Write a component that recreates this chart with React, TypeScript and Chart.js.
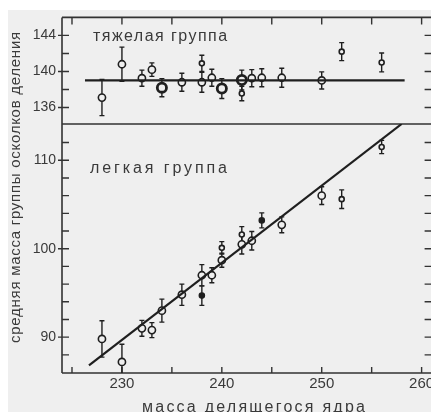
import { useEffect, useRef } from "react";
import { Chart, registerables } from "chart.js";

Chart.register(...registerables);

// Mass of the fissioning nucleus (x axis)
const xTickValues = [230, 240, 250, 260];
const heavyTickValues = [136, 140, 144];
const lightTickValues = [90, 100, 110];

// Heavy fragment group: mean mass and its uncertainty
const heavyMass = [228, 230, 232, 233, 234, 236, 238, 238, 239, 240, 242, 242, 243, 244, 246, 250, 252, 256];
const heavyMean = [137.1, 140.8, 139.25, 140.2, 138.2, 138.8, 138.8, 140.9, 139.3, 138.1, 139.05, 137.55, 139.25, 139.3, 139.3, 139.0, 142.2, 141.0];
const heavyErr = [2.0, 1.9, 0.9, 0.75, 1.0, 1.0, 1.1, 0.9, 0.95, 1.1, 1.1, 0.8, 0.95, 1.0, 1.05, 0.95, 1.0, 1.05];
// o = open circle, O = heavy open circle, s = small open mark, f = filled mark
const heavyKind = ["o", "o", "o", "o", "O", "o", "o", "s", "o", "O", "O", "s", "o", "o", "o", "o", "s", "s"];

// Light fragment group
const lightMass = [228, 230, 232, 233, 234, 236, 238, 238, 239, 240, 240, 242, 242, 243, 244, 246, 250, 252, 256];
const lightMean = [89.8, 87.2, 91.0, 90.8, 93.0, 94.8, 97.0, 94.7, 97.0, 98.7, 100.1, 100.5, 101.6, 100.9, 103.2, 102.7, 106.0, 105.6, 111.5];
const lightErr = [2.05, 2.0, 0.9, 0.85, 1.3, 1.2, 1.2, 1.1, 0.85, 0.8, 0.7, 1.1, 0.9, 1.05, 0.85, 0.9, 1.0, 1.05, 0.75];
const lightKind = ["o", "o", "o", "o", "o", "o", "o", "f", "o", "o", "s", "o", "s", "o", "f", "o", "o", "s", "s"];

// Fitted trends
const heavyFitMass = [226.3, 258.3];
const heavyFitMean = [139.0, 139.0];
const lightFitMass = [226.7, 258.0];
const lightFitMean = [86.8, 114.1];

const BG = "#efefef";
const INK = "#1f1f1f";
const TEXT = "#3a3a3a";
const FONT = "'Liberation Sans', Arial, sans-serif";

const toPoints = (xs: number[], ys: number[]) => xs.map((x, i) => ({ x, y: ys[i] }));

const radiusFor = (k: string) => (k === "O" ? 4.6 : k === "o" ? 3.6 : 2.5);
const widthFor = (k: string) => (k === "O" ? 2.8 : 1.6);

function markerDataset(label: string, xs: number[], ys: number[], errs: number[], kinds: string[], axis: string) {
  return {
    type: "scatter" as const,
    label,
    data: toPoints(xs, ys),
    errors: errs,
    yAxisID: axis,
    pointRadius: kinds.map(radiusFor),
    pointBorderWidth: kinds.map(widthFor),
    pointBorderColor: INK,
    pointBackgroundColor: kinds.map((k) => (k === "f" ? INK : BG)),
  };
}

function fitDataset(label: string, xs: number[], ys: number[], axis: string) {
  return {
    type: "scatter" as const,
    label,
    data: toPoints(xs, ys),
    yAxisID: axis,
    showLine: true,
    borderColor: INK,
    borderWidth: 2.2,
    pointRadius: 0,
  };
}

// Vertical uncertainty bars with caps, clipped to their own panel
const errorBars = {
  id: "errorBars",
  beforeDatasetsDraw(chart: any) {
    const ctx = chart.ctx as CanvasRenderingContext2D;
    const area = chart.chartArea;
    chart.data.datasets.forEach((ds: any, i: number) => {
      if (!ds.errors) return;
      const meta = chart.getDatasetMeta(i);
      const ys = chart.scales[meta.yAxisID];
      ctx.save();
      ctx.beginPath();
      ctx.rect(area.left, ys.top, area.right - area.left, ys.bottom - ys.top);
      ctx.clip();
      ctx.strokeStyle = INK;
      ctx.lineWidth = 1.4;
      meta.data.forEach((pt: any, j: number) => {
        const v = ds.data[j];
        const top = ys.getPixelForValue(v.y + ds.errors[j]);
        const bot = ys.getPixelForValue(v.y - ds.errors[j]);
        const x = pt.x;
        ctx.beginPath();
        ctx.moveTo(x, top);
        ctx.lineTo(x, bot);
        ctx.moveTo(x - 2.5, top);
        ctx.lineTo(x + 2.5, top);
        ctx.moveTo(x - 2.5, bot);
        ctx.lineTo(x + 2.5, bot);
        ctx.stroke();
      });
      ctx.restore();
    });
  },
};

// Frame, panel divider and inward tick marks on all sides
const frameTicks = {
  id: "frameTicks",
  beforeDatasetsDraw(chart: any) {
    const ctx = chart.ctx as CanvasRenderingContext2D;
    const { left, right } = chart.chartArea;
    const x = chart.scales.x;
    const yH = chart.scales.yH;
    const yL = chart.scales.yL;
    ctx.save();
    ctx.strokeStyle = "#333";
    ctx.lineWidth = 1.6;
    ctx.beginPath();
    ctx.moveTo(left, yH.top);
    ctx.lineTo(right + 1, yH.top);
    ctx.moveTo(left, yH.bottom);
    ctx.lineTo(right + 1, yH.bottom);
    ctx.moveTo(left, yL.bottom);
    ctx.lineTo(right + 1, yL.bottom);
    ctx.moveTo(left, yH.top);
    ctx.lineTo(left, yL.bottom);
    ctx.moveTo(right + 1, yH.top);
    ctx.lineTo(right + 1, yL.bottom);
    ctx.stroke();

    ctx.lineWidth = 1.4;
    ctx.beginPath();
    for (let v = 225; v <= 260; v += 5) {
      const px = x.getPixelForValue(v);
      ctx.moveTo(px, yL.bottom);
      ctx.lineTo(px, yL.bottom - 6);
      ctx.moveTo(px, yH.top);
      ctx.lineTo(px, yH.top + 7);
    }
    const yTicks = (scale: any, from: number, to: number, majors: number[]) => {
      for (let v = from; v <= to; v += 2) {
        const py = scale.getPixelForValue(v);
        const major = majors.includes(v);
        ctx.moveTo(left - (major ? 4 : 0), py);
        ctx.lineTo(left + 7, py);
        ctx.moveTo(right, py);
        ctx.lineTo(right - 7, py);
      }
    };
    yTicks(yH, 136, 144, heavyTickValues);
    yTicks(yL, 88, 112, lightTickValues);
    ctx.stroke();
    ctx.restore();
  },
};

function spacedText(ctx: CanvasRenderingContext2D, text: string, x0: number, y: number, width: number) {
  (ctx as any).letterSpacing = "0px";
  const w = ctx.measureText(text).width;
  const n = Array.from(text).length;
  const sp = Math.max(0, (width - w) / (n - 1));
  (ctx as any).letterSpacing = sp.toFixed(2) + "px";
  ctx.textAlign = "left";
  ctx.fillText(text, x0, y);
  (ctx as any).letterSpacing = "0px";
}

// Panel captions and axis titles
const captions = {
  id: "captions",
  afterDraw(chart: any) {
    const ctx = chart.ctx as CanvasRenderingContext2D;
    ctx.save();
    ctx.fillStyle = TEXT;
    ctx.textBaseline = "alphabetic";
    ctx.font = `16px ${FONT}`;
    spacedText(ctx, "тяжелая группа", 85, 30.7, 134);
    spacedText(ctx, "легкая группа", 82, 163.3, 137);
    spacedText(ctx, "масса делящегося ядра", 245.5 - 111.5, 401.5, 223);
    ctx.translate(8, 177.5);
    ctx.rotate(-Math.PI / 2);
    ctx.textBaseline = "middle";
    ctx.font = `15px ${FONT}`;
    spacedText(ctx, "средняя масса группы осколков деления", -155.5, 0, 311);
    ctx.restore();
  },
};

export default function App() {
  const ref = useRef<HTMLCanvasElement | null>(null);

  useEffect(() => {
    if (!ref.current) return;
    const tickFont = (size: number) => ({ family: FONT, size });
    const yCommon = (min: number, max: number, weight: number, values: number[]) => ({
      type: "linear" as const,
      position: "left" as const,
      stack: "panels",
      stackWeight: weight,
      min,
      max,
      grid: { display: false, drawTicks: false },
      border: { display: false },
      ticks: { font: tickFont(14), color: TEXT, padding: 6, autoSkip: false },
      afterBuildTicks: (s: any) => {
        s.ticks = values.map((value) => ({ value }));
      },
      afterFit: (s: any) => {
        s.width = 54;
        s.paddingTop = 0;
        s.paddingBottom = 0;
      },
    });

    const chart = new Chart(ref.current, {
      type: "scatter",
      data: {
        datasets: [
          fitDataset("тяжелая группа, аппроксимация", heavyFitMass, heavyFitMean, "yH"),
          fitDataset("легкая группа, аппроксимация", lightFitMass, lightFitMean, "yL"),
          markerDataset("тяжелая группа", heavyMass, heavyMean, heavyErr, heavyKind, "yH") as any,
          markerDataset("легкая группа", lightMass, lightMean, lightErr, lightKind, "yL") as any,
        ],
      },
      options: {
        animation: false,
        responsive: false,
        devicePixelRatio: 1,
        layout: { padding: { top: 6, right: 0, left: 0, bottom: 0 } },
        plugins: { legend: { display: false }, tooltip: { enabled: false } },
        scales: {
          x: {
            type: "linear",
            min: 224,
            max: 261,
            grid: { display: false, drawTicks: false },
            border: { display: false },
            ticks: { font: tickFont(15), color: TEXT, padding: 2, autoSkip: false, maxRotation: 0 },
            afterBuildTicks: (s: any) => {
              s.ticks = xTickValues.map((value) => ({ value }));
            },
            afterFit: (s: any) => {
              s.height = 39;
              s.paddingLeft = 0;
              s.paddingRight = 0;
            },
          },
          yL: yCommon(85.95, 114.1, 250.7, lightTickValues),
          yH: yCommon(134.17, 146, 107.3, heavyTickValues),
        } as any,
      },
      plugins: [frameTicks, errorBars, captions],
    });
    return () => chart.destroy();
  }, []);

  return (
    <div style={{ paddingTop: 2 }}>
      <div style={{ width: 431, height: 402, background: BG }}>
        <canvas ref={ref} width={431} height={402} style={{ display: "block" }} />
      </div>
    </div>
  );
}
